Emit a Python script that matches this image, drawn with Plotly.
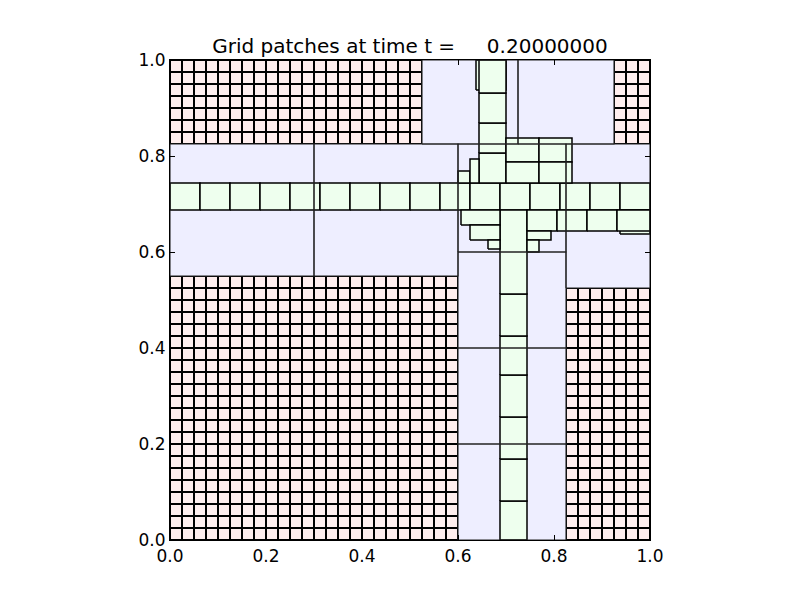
import plotly.graph_objects as go

# ---------------- data ----------------
# level 1 patch: x1, x2, y1, y2 and number of cells in each direction
level1_patch = (0.0, 1.0, 0.0, 1.0)
level1_cells = 40

# level 2 patches (x1, x2, y1, y2)
level2_x1 = [0.0, 0.3, 0.525, 0.725, 0.6, 0.6, 0.6, 0.6, 0.825]
level2_x2 = [0.3, 0.6, 0.725, 0.925, 0.825, 0.825, 0.825, 0.825, 1.0]
level2_y1 = [0.55, 0.55, 0.825, 0.825, 0.6, 0.4, 0.2, 0.0, 0.525]
level2_y2 = [0.825, 0.825, 1.0, 1.0, 0.825, 0.6, 0.4, 0.2, 0.825]

# level 3: horizontal band of patches
band_x_edges = [0.0, 0.0625, 0.125, 0.1875, 0.25, 0.3125, 0.375, 0.4375, 0.5,
                0.5625, 0.625, 0.6875, 0.75, 0.8125, 0.875, 0.9375, 1.0]
band_y = (0.6875, 0.74375)

# level 3: upper column
upper_col_x = (0.64375, 0.7)
upper_col_y_edges = [0.74375, 0.80625, 0.86875, 0.93125, 1.0]

# level 3: lower column
lower_col_x = (0.6875, 0.74375)
lower_col_y_edges = [0.0, 0.08125, 0.16875, 0.25625, 0.34375, 0.425, 0.5125, 0.6875]

# level 3: other patches near the crossing (x1, x2, y1, y2)
level3_x1 = [0.6375, 0.6, 0.625, 0.7, 0.7, 0.76875, 0.76875,
             0.60625, 0.625, 0.6625, 0.74375, 0.74375, 0.74375,
             0.80625, 0.86875, 0.9375, 0.93125]
level3_x2 = [0.7, 0.625, 0.64375, 0.76875, 0.76875, 0.8375, 0.8375,
             0.6875, 0.6875, 0.6875, 0.80625, 0.79375, 0.76875,
             0.86875, 0.93125, 1.0, 1.0]
level3_y1 = [0.9375, 0.74375, 0.74375, 0.7875, 0.74375, 0.7875, 0.74375,
             0.65625, 0.625, 0.60625, 0.64375, 0.625, 0.6,
             0.64375, 0.64375, 0.6375, 0.64375]
level3_y2 = [1.0, 0.76875, 0.79375, 0.8375, 0.7875, 0.8375, 0.7875,
             0.6875, 0.65625, 0.625, 0.6875, 0.64375, 0.625,
             0.6875, 0.6875, 0.6875, 0.6875]

tick_vals = [0.0, 0.2, 0.4, 0.6, 0.8, 1.0]
tick_text = ["0.0", "0.2", "0.4", "0.6", "0.8", "1.0"]
title_time = 0.2

level_colors = ["#ffeeee", "#eeeeff", "#eeffee"]

# ---------------- build ----------------
def rect_path(rects):
    xs, ys = [], []
    for (x1, x2, y1, y2) in rects:
        xs += [x1, x2, x2, x1, x1, None]
        ys += [y1, y1, y2, y2, y1, None]
    return xs, ys

l1 = [level1_patch]
l2 = list(zip(level2_x1, level2_x2, level2_y1, level2_y2))
l3 = [(level3_x1[0], level3_x2[0], level3_y1[0], level3_y2[0])]
for i in range(len(band_x_edges) - 1):
    l3.append((band_x_edges[i], band_x_edges[i + 1], band_y[0], band_y[1]))
for i in range(len(upper_col_y_edges) - 1):
    l3.append((upper_col_x[0], upper_col_x[1], upper_col_y_edges[i], upper_col_y_edges[i + 1]))
for i in range(len(lower_col_y_edges) - 1):
    l3.append((lower_col_x[0], lower_col_x[1], lower_col_y_edges[i], lower_col_y_edges[i + 1]))
for r in zip(level3_x1[1:], level3_x2[1:], level3_y1[1:], level3_y2[1:]):
    l3.append(r)

# level 1 cell edges
x1, x2, y1, y2 = level1_patch
dx = (x2 - x1) / level1_cells
dy = (y2 - y1) / level1_cells
gx, gy = [], []
for i in range(level1_cells + 1):
    xv = x1 + i * dx
    gx += [xv, xv, None]
    gy += [y1, y2, None]
    yv = y1 + i * dy
    gx += [x1, x2, None]
    gy += [yv, yv, None]

fig = go.Figure()

xs, ys = rect_path(l1)
fig.add_trace(go.Scatter(x=xs, y=ys, fill="toself", fillcolor=level_colors[0],
                         mode="lines", line=dict(width=0), hoverinfo="skip"))
fig.add_trace(go.Scatter(x=gx, y=gy, mode="lines",
                         line=dict(color="black", width=2), hoverinfo="skip"))
xs, ys = rect_path(l2)
fig.add_trace(go.Scatter(x=xs, y=ys, fill="toself", fillcolor=level_colors[1],
                         mode="lines", line=dict(width=0), hoverinfo="skip"))
# level 3 fills and edges patch by patch (overlapping order matters)
for r in l3:
    xs, ys = rect_path([r])
    fig.add_trace(go.Scatter(x=xs, y=ys, fill="toself", fillcolor=level_colors[2],
                             mode="lines", line=dict(color="black", width=1.5),
                             hoverinfo="skip"))
xs, ys = rect_path(l2)
fig.add_trace(go.Scatter(x=xs, y=ys, mode="lines",
                         line=dict(color="#222222", width=1.1), hoverinfo="skip"))

axis_common = dict(range=[0, 1], showgrid=False, zeroline=False,
                   showline=True, linecolor="black", linewidth=1.2, mirror="allticks",
                   ticks="inside", ticklen=5, tickwidth=1, tickcolor="black",
                   tickvals=tick_vals, ticktext=tick_text,
                   tickfont=dict(family="DejaVu Sans", size=17, color="black"))

fig.update_layout(
    width=800, height=600, autosize=False,
    margin=dict(l=170, r=150, t=60, b=60, pad=0),
    paper_bgcolor="white", plot_bgcolor="white",
    showlegend=False,
    xaxis=dict(**axis_common),
    yaxis=dict(**axis_common),
    title=dict(text="Grid patches at time t =" + "\u00a0" * 5 + "%.8f" % title_time,
               x=0.5, xref="paper", xanchor="center",
               y=1 - 46 / 600, yref="container", yanchor="middle",
               font=dict(family="DejaVu Sans", size=20, color="black")),
)

fig.write_html("out.html")
